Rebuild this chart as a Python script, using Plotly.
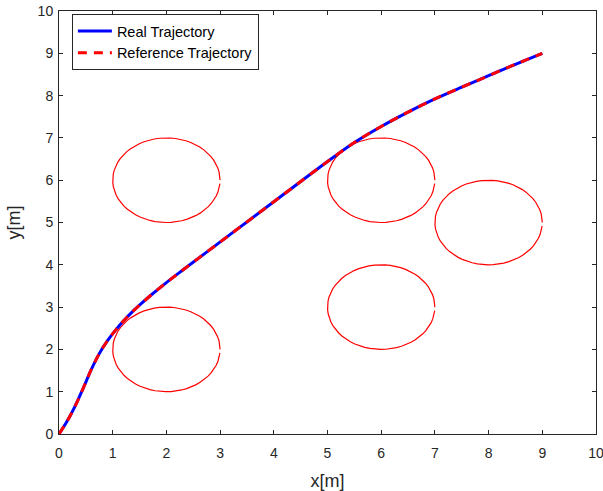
import numpy as np
import plotly.graph_objects as go

# Trajectory data
traj_x = [0, 0.15, 0.3, 0.45, 0.6, 0.75, 0.9, 1.05, 1.2, 1.36, 1.53, 1.71, 2.0, 2.33, 2.96, 3.58, 4.21, 4.85, 5.5, 6.0, 6.5, 7.0, 7.5, 8.0, 8.5, 9.0]
traj_y = [0, 0.3, 0.66, 1.08, 1.52, 1.9, 2.2, 2.45, 2.67, 2.88, 3.08, 3.28, 3.58, 3.9, 4.5, 5.09, 5.69, 6.3, 6.89, 7.27, 7.61, 7.92, 8.2, 8.47, 8.74, 9.0]
ref_x = traj_x
ref_y = traj_y

# Obstacles (circles)
obs_cx = [2, 2, 6, 6, 8]
obs_cy = [2, 6, 6, 3, 5]
obs_r = [1, 1, 1, 1, 1]

tick_vals = list(range(0, 11))

fig = go.Figure()

theta = np.arange(0, 2 * np.pi, 0.1)
for cx, cy, r in zip(obs_cx, obs_cy, obs_r):
    fig.add_trace(go.Scatter(
        x=cx + r * np.cos(theta), y=cy + r * np.sin(theta),
        mode="lines", line=dict(color="#ff0000", width=1.2),
        showlegend=False, hoverinfo="skip"))

fig.add_trace(go.Scatter(
    x=traj_x, y=traj_y, mode="lines", name="Real Trajectory",
    line=dict(color="#0000ff", width=3, shape="spline", smoothing=1)))
fig.add_trace(go.Scatter(
    x=ref_x, y=ref_y, mode="lines", name="Reference Trajectory",
    line=dict(color="#ff0000", width=3, dash="9px,7px", shape="spline", smoothing=1)))

FONT = "Liberation Sans, Arial"
axis_common = dict(
    range=[0, 10], tickvals=tick_vals, showgrid=False, zeroline=False,
    showline=True, linecolor="#262626", linewidth=1, mirror="allticks",
    ticks="inside", ticklen=4, tickcolor="#262626", automargin=False,
    ticklabeloverflow="allow",
    tickfont=dict(family=FONT, size=14, color="#262626"),
)

fig.update_layout(
    width=603, height=491,
    margin=dict(l=59, r=7, t=11, b=57),
    plot_bgcolor="white", paper_bgcolor="white",
    xaxis=dict(**axis_common, ticklabelstandoff=6,
               title=dict(text="x[m]", standoff=14,
                          font=dict(family=FONT, size=18, color="#262626"))),
    yaxis=dict(**axis_common, ticklabelstandoff=2,
               title=dict(text="y[m]", standoff=12,
                          font=dict(family=FONT, size=18, color="#262626"))),
    legend=dict(x=0.024, y=0.993, xanchor="left", yanchor="top",
                bgcolor="white", bordercolor="#262626", borderwidth=1,
                font=dict(family=FONT, size=14.5, color="#000000"),
                tracegroupgap=0, itemwidth=34),
    showlegend=True,
)

fig.write_html("out.html")
